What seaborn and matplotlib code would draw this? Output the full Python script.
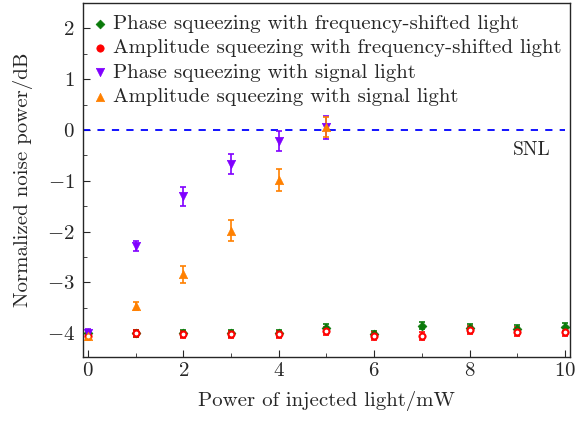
import numpy as np
import pandas as pd
import matplotlib
matplotlib.use("Agg")
import matplotlib.pyplot as plt
import seaborn as sns
from matplotlib.ticker import MultipleLocator

# data
power = [0, 1, 2, 3, 4, 5, 6, 7, 8, 9, 10]
phase_fs = [-4.00, -4.00, -4.00, -4.00, -4.00, -3.90, -4.02, -3.85, -3.90, -3.92, -3.88]
phase_fs_err = [0.07, 0.07, 0.07, 0.07, 0.07, 0.08, 0.07, 0.07, 0.07, 0.08, 0.07]
amp_fs = [-4.05, -4.00, -4.02, -4.02, -4.02, -3.95, -4.05, -4.05, -3.93, -3.97, -3.97]
amp_fs_err = [0.07, 0.07, 0.07, 0.07, 0.07, 0.08, 0.08, 0.08, 0.08, 0.09, 0.08]
power_sig = [0, 1, 2, 3, 4, 5]
phase_sig = [-4.00, -2.28, -1.31, -0.67, -0.22, 0.05]
phase_sig_err = [0.08, 0.10, 0.18, 0.20, 0.20, 0.22]
amp_sig = [-4.05, -3.47, -2.84, -1.98, -0.99, 0.06]
amp_sig_err = [0.08, 0.08, 0.17, 0.20, 0.22, 0.20]

labels = ["Phase squeezing with frequency-shifted light",
          "Amplitude squeezing with frequency-shifted light",
          "Phase squeezing with signal light",
          "Amplitude squeezing with signal light"]
colors = ["#0a7a0a", "#ff0000", "#8000ff", "#ff8000"]
markers = ["D", "o", "v", "^"]
sizes = [20, 28, 36, 36]

sns.set_style("ticks")
plt.rcParams["font.family"] = ["cmr10", "DejaVu Serif"]
plt.rcParams["mathtext.fontset"] = "cm"
plt.rcParams["axes.formatter.use_mathtext"] = True
plt.rcParams["xtick.direction"] = "in"
plt.rcParams["ytick.direction"] = "in"

fig, ax = plt.subplots(figsize=(5.85, 4.25), dpi=100)
fig.subplots_adjust(left=0.142, right=0.974, top=0.993, bottom=0.16)

series = [(power, phase_fs, phase_fs_err), (power, amp_fs, amp_fs_err),
          (power_sig, phase_sig, phase_sig_err), (power_sig, amp_sig, amp_sig_err)]

for (x, y, e), lab, c, m, s in zip(series, labels, colors, markers, sizes):
    ax.errorbar(x, y, yerr=e, fmt="none", ecolor=c, elinewidth=1.2, capsize=2.5, capthick=1.2, zorder=2)
    df = pd.DataFrame({"x": x, "y": y})
    sns.scatterplot(data=df, x="x", y="y", marker=m, color=c, s=s, edgecolor=c,
                    linewidth=0.5, label=lab, ax=ax, zorder=3)

# white highlight in the red circles
ax.scatter(power, amp_fs, s=3, color="white", zorder=4)

ax.axhline(0, xmax=0.99, color="#0000ff", linestyle=(0, (4, 4)), linewidth=1.3, zorder=1)
ax.text(9.7, -0.22, "SNL", ha="right", va="top", fontsize=14)

ax.set_xlim(-0.1, 10.1)
ax.set_ylim(-4.47, 2.5)
ax.xaxis.set_major_locator(MultipleLocator(2))
ax.xaxis.set_minor_locator(MultipleLocator(1))
ax.yaxis.set_major_locator(MultipleLocator(1))
ax.yaxis.set_minor_locator(MultipleLocator(0.5))
ax.tick_params(which="major", length=5, labelsize=15)
ax.tick_params(which="minor", length=3)
ax.tick_params(axis="y", pad=6)
ax.set_xlabel("Power of injected light/mW", fontsize=15, labelpad=8)
ax.set_ylabel("Normalized noise power/dB", fontsize=15, labelpad=10)
for sp in ax.spines.values():
    sp.set_linewidth(1.0)

leg = ax.legend(loc="upper left", frameon=False, fontsize=15, handletextpad=0.1,
                borderaxespad=0.15, labelspacing=0.28, handlelength=1.0,
                bbox_to_anchor=(-0.01, 1.0))

fig.savefig("out.png", dpi=100)
